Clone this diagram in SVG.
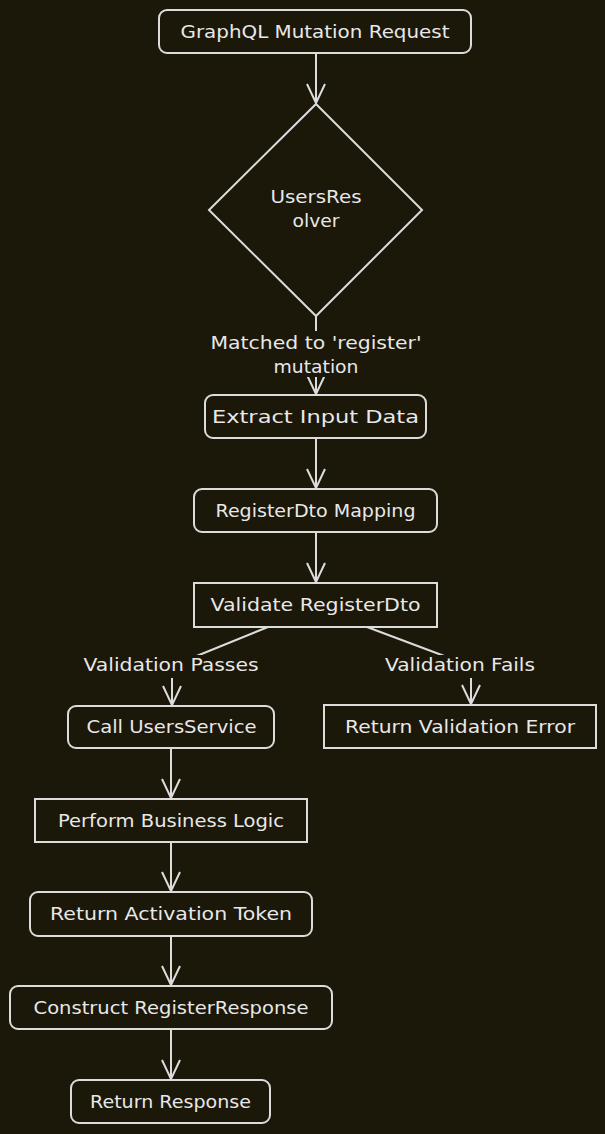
<svg xmlns="http://www.w3.org/2000/svg" width="605" height="1134" viewBox="0 0 605 1134">
<style>
.bg{fill:#1b1709}
.nd{fill:#1b1709;stroke:#dcdcdc;stroke-width:2}
.ed{fill:none;stroke:#dcdcdc;stroke-width:2}
.lb{fill:#1b1709}
text{font-family:"DejaVu Sans","Liberation Sans",sans-serif;font-size:17px;fill:#e8e8e8;text-anchor:middle}
</style>
<defs>
<marker id="arr" viewBox="0 0 22 20" refX="20" refY="10" markerWidth="22" markerHeight="20" markerUnits="userSpaceOnUse" orient="auto">
<path d="M1,1 L20,10 L1,19" fill="none" stroke="#dcdcdc" stroke-width="2"/>
</marker>
</defs>
<rect class="bg" x="0" y="0" width="605" height="1134"/>
<g id="connectors">
<path class="ed" d="M316,53 L316,103" marker-end="url(#arr)"/>
<path class="ed" d="M316,316 L316,394" marker-end="url(#arr)"/>
<path class="ed" d="M316,438 L316,488" marker-end="url(#arr)"/>
<path class="ed" d="M316,532 L316,582" marker-end="url(#arr)"/>
<path class="ed" d="M268,627 L172,666 L172,705" marker-end="url(#arr)"/>
<path class="ed" d="M367,627 L471,666 L471,704" marker-end="url(#arr)"/>
<path class="ed" d="M171,748 L171,798" marker-end="url(#arr)"/>
<path class="ed" d="M171,842 L171,891" marker-end="url(#arr)"/>
<path class="ed" d="M171,936 L171,985" marker-end="url(#arr)"/>
<path class="ed" d="M171,1029 L171,1079" marker-end="url(#arr)"/>
</g>
<g id="edge-labels">
<g id="lbl-matched">
<rect class="lb" x="206" y="331" width="220" height="46"/>
<text x="316" y="349" textLength="211" lengthAdjust="spacingAndGlyphs">Matched to 'register'</text>
<text x="316" y="373" textLength="85" lengthAdjust="spacingAndGlyphs">mutation</text>
</g>
<g id="lbl-passes">
<rect class="lb" x="80" y="655" width="184" height="23"/>
<text x="171" y="671" textLength="175" lengthAdjust="spacingAndGlyphs">Validation Passes</text>
</g>
<g id="lbl-fails">
<rect class="lb" x="381" y="655" width="158" height="23"/>
<text x="460" y="671" textLength="150" lengthAdjust="spacingAndGlyphs">Validation Fails</text>
</g>
</g>
<g id="n-request">
<rect class="nd" x="159" y="10" width="312" height="43" rx="8"/>
<text x="315" y="37.5" textLength="269" lengthAdjust="spacingAndGlyphs">GraphQL Mutation Request</text>
</g>
<g id="n-resolver">
<polygon class="nd" points="316,104 422,210 316,316 209,210"/>
<text x="316" y="203" textLength="91" lengthAdjust="spacingAndGlyphs">UsersRes</text>
<text x="316" y="227" textLength="47" lengthAdjust="spacingAndGlyphs">olver</text>
</g>
<g id="n-extract">
<rect class="nd" x="205" y="395" width="221" height="43" rx="8"/>
<text x="315.5" y="422.5" textLength="207" lengthAdjust="spacingAndGlyphs">Extract Input Data</text>
</g>
<g id="n-mapping">
<rect class="nd" x="194" y="489" width="243" height="43" rx="8"/>
<text x="315.5" y="516.5" textLength="200" lengthAdjust="spacingAndGlyphs">RegisterDto Mapping</text>
</g>
<g id="n-validate">
<rect class="nd" x="194" y="583" width="243" height="44"/>
<text x="315.5" y="611" textLength="210" lengthAdjust="spacingAndGlyphs">Validate RegisterDto</text>
</g>
<g id="n-call">
<rect class="nd" x="68" y="706" width="206" height="42" rx="8"/>
<text x="171.5" y="733" textLength="170" lengthAdjust="spacingAndGlyphs">Call UsersService</text>
</g>
<g id="n-error">
<rect class="nd" x="324" y="705" width="272" height="43"/>
<text x="460" y="732.5" textLength="230" lengthAdjust="spacingAndGlyphs">Return Validation Error</text>
</g>
<g id="n-logic">
<rect class="nd" x="35" y="799" width="272" height="43"/>
<text x="171" y="826.5" textLength="226" lengthAdjust="spacingAndGlyphs">Perform Business Logic</text>
</g>
<g id="n-token">
<rect class="nd" x="30" y="892" width="282" height="44" rx="8"/>
<text x="171" y="920" textLength="242" lengthAdjust="spacingAndGlyphs">Return Activation Token</text>
</g>
<g id="n-construct">
<rect class="nd" x="10" y="986" width="322" height="43" rx="8"/>
<text x="171" y="1013.5" textLength="275" lengthAdjust="spacingAndGlyphs">Construct RegisterResponse</text>
</g>
<g id="n-response">
<rect class="nd" x="71" y="1080" width="199" height="43" rx="8"/>
<text x="170.5" y="1107.5" textLength="161" lengthAdjust="spacingAndGlyphs">Return Response</text>
</g>
</svg>
